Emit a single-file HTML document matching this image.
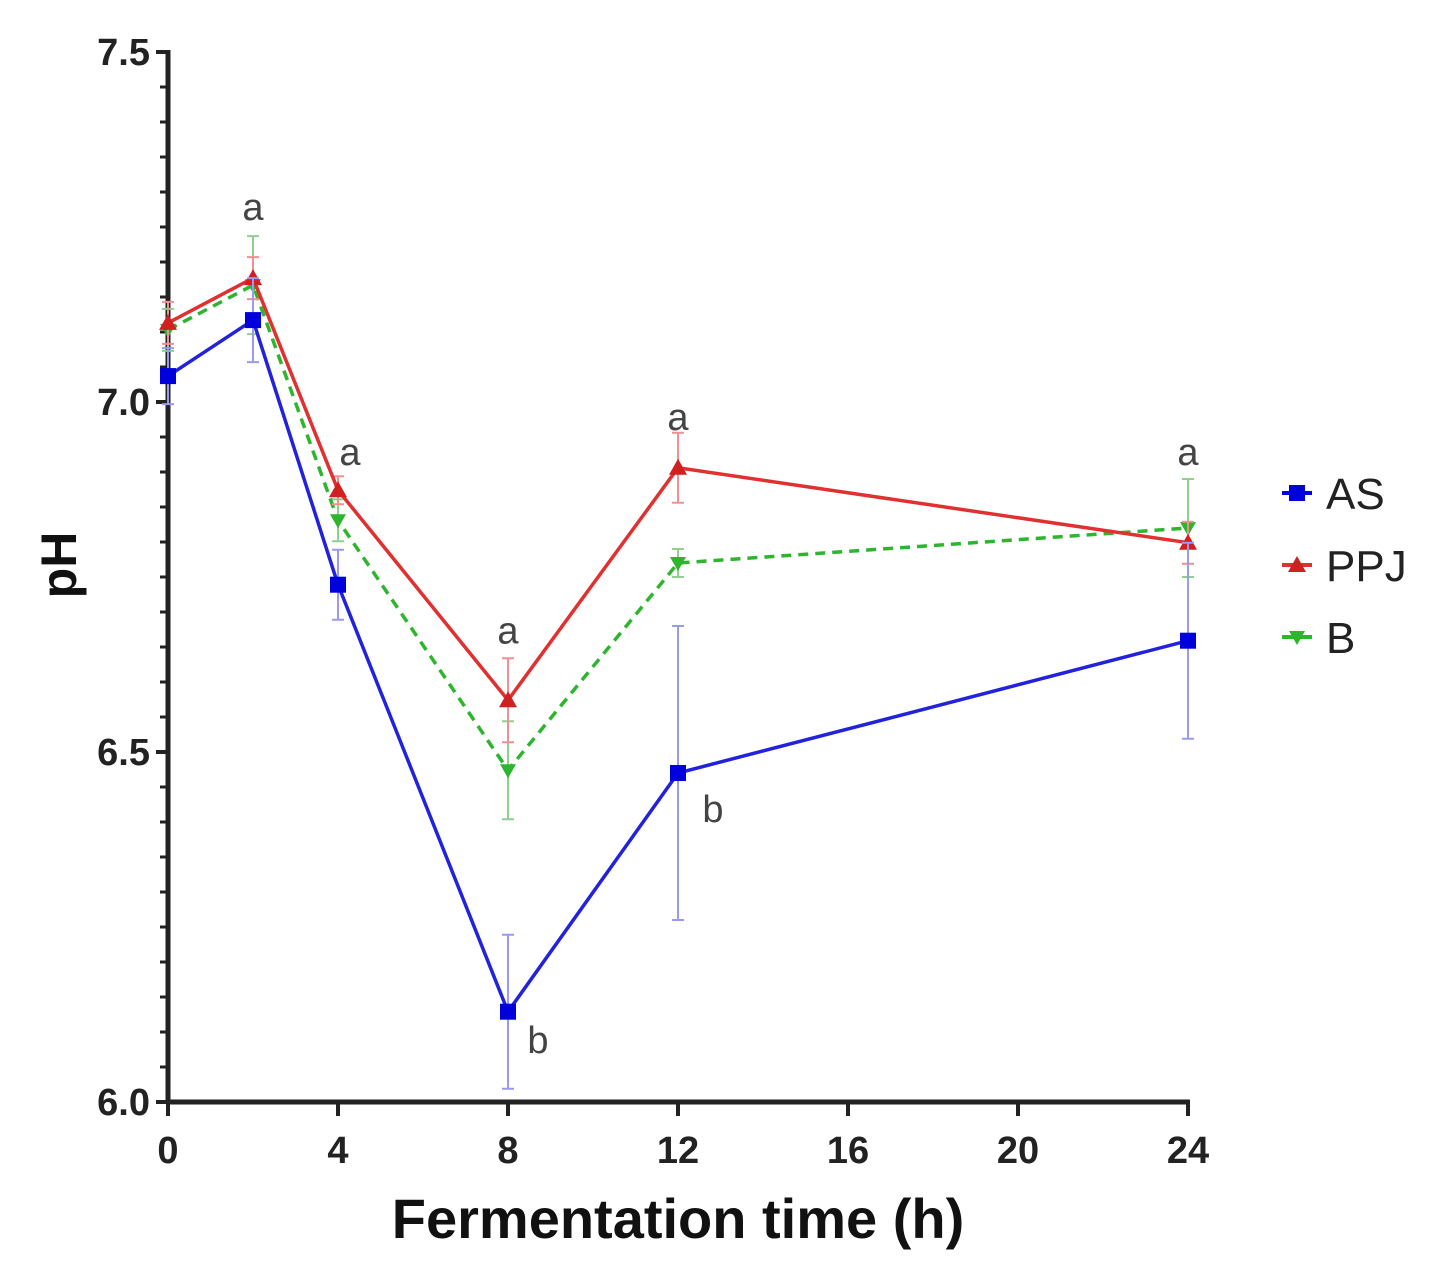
<!DOCTYPE html>
<html><head><meta charset="utf-8"><style>
body{margin:0;background:#fff;width:1437px;height:1280px;overflow:hidden}
svg{display:block;font-family:"Liberation Sans",Arial,sans-serif}
</style></head><body>
<svg id="chart" width="1437" height="1280"></svg>
<script>
const times=[0,2,4,8,12,24];
const asVals=[7.037,7.117,6.739,6.129,6.47,6.659];
const asErr=[0.04,0.06,0.05,0.11,0.21,0.14];
const ppjVals=[7.113,7.177,6.874,6.574,6.906,6.799];
const ppjErr=[0.03,0.03,0.02,0.06,0.05,0.03];
const bVals=[7.103,7.167,6.831,6.474,6.77,6.82];
const bErr=[0.03,0.07,0.03,0.07,0.02,0.07];
const xTicks=[0,4,8,12,16,20,24];
const yTicks=[6.0,6.5,7.0,7.5];
const sigLabels=[{t:2,y:7.26,s:"a",dx:0},{t:4,y:6.91,s:"a",dx:12},{t:8,y:6.655,s:"a",dx:0},{t:12,y:6.96,s:"a",dx:0},{t:24,y:6.91,s:"a",dx:0},{t:8,y:6.07,s:"b",dx:30},{t:12,y:6.4,s:"b",dx:35}];
const NS="http://www.w3.org/2000/svg";
const svg=document.getElementById('chart');
const X=t=>168+t*(1020/24);
const Y=v=>1102-(v-6)*700;
function el(tag,attrs,parent){const e=document.createElementNS(NS,tag);for(const k in attrs)e.setAttribute(k,attrs[k]);(parent||svg).appendChild(e);return e;}
let a=el('line',{x1:168,y1:50,x2:168,y2:1104,stroke:'#222','stroke-width':5});


a=el('line',{x1:166,y1:1102,x2:1190,y2:1102,stroke:'#222','stroke-width':5});


for(let v=6;v<=7.5001;v+=0.05){const big=Math.abs(v*2-Math.round(v*2))<1e-6;const t=el('line',{x1:big?156:160,y1:Y(v),x2:168,y2:Y(v),stroke:'#222','stroke-width':big?4:3});

}
yTicks.forEach(v=>{const t=el('text',{x:150,y:Y(v)+13,'text-anchor':'end','font-size':38,'font-weight':'bold',fill:'#222'});t.textContent=v.toFixed(1);

});
xTicks.forEach(v=>{const l=el('line',{x1:X(v),y1:1102,x2:X(v),y2:1116,stroke:'#222','stroke-width':4});


const t=el('text',{x:X(v),y:1163,'text-anchor':'middle','font-size':38,'font-weight':'bold',fill:'#222'});t.textContent=v;

});
let t=el('text',{x:678,y:1238,'text-anchor':'middle','font-size':56,'font-weight':'bold',fill:'#111'});t.textContent='Fermentation time (h)';


t=el('text',{x:0,y:0,'text-anchor':'middle','font-size':50,'font-weight':'bold',fill:'#111',transform:'translate(76,565) rotate(-90)'});t.textContent='pH';


function series(name,vals,errs,color,errColor,dash,marker){
  const g=el('g',{});
  
  
  vals.forEach((v,i)=>{const x=X(times[i]);
    const e=el('path',{d:`M${x},${Y(v+errs[i])}V${Y(v-errs[i])}M${x-6},${Y(v+errs[i])}H${x+6}M${x-6},${Y(v-errs[i])}H${x+6}`,stroke:errColor,'stroke-width':2,fill:'none'},g);
    
    });
  const p=el('polyline',{points:vals.map((v,i)=>X(times[i])+','+Y(v)).join(' '),fill:'none',stroke:color,'stroke-width':3.5,'stroke-dasharray':dash},g);
  
  
  vals.forEach((v,i)=>{const m=marker(X(times[i]),Y(v),g);
    
    });
}
const sq=c=>(x,y,g)=>el('rect',{x:x-8,y:y-8,width:16,height:16,fill:c},g);
const tri=c=>(x,y,g)=>el('path',{d:`M${x},${y-9}L${x+9},${y+7}L${x-9},${y+7}Z`,fill:c},g);
const tdn=c=>(x,y,g)=>el('path',{d:`M${x},${y+8}L${x+8},${y-6}L${x-8},${y-6}Z`,fill:c},g);
series('b',bVals,bErr,'#2db52d','#8fd08f','10,7',tdn('#2db52d'));
series('ppj',ppjVals,ppjErr,'#e03030','#f09090','',tri('#d02020'));
series('as',asVals,asErr,'#2222dd','#9a9af0','',sq('#0000dd'));
sigLabels.forEach(s=>{const t=el('text',{x:X(s.t)+s.dx,y:Y(s.y),'text-anchor':'middle','font-size':38,fill:'#444'});t.textContent=s.s;

});
const leg=[['AS','#0000dd',sq('#0000dd')],['PPJ','#e03030',tri('#d02020')],['B','#2db52d',tdn('#2db52d')]];
leg.forEach((l,i)=>{const y=493+i*72;const g=el('g',{});
  
  
  el('line',{x1:1282,y1:y,x2:1312,y2:y,stroke:l[1],'stroke-width':4},g);
  l[2](1297,y,g);
  const t=el('text',{x:1326,y:y+16,'font-size':44,fill:'#222'},g);t.textContent=l[0];});
</script>
</body></html>
